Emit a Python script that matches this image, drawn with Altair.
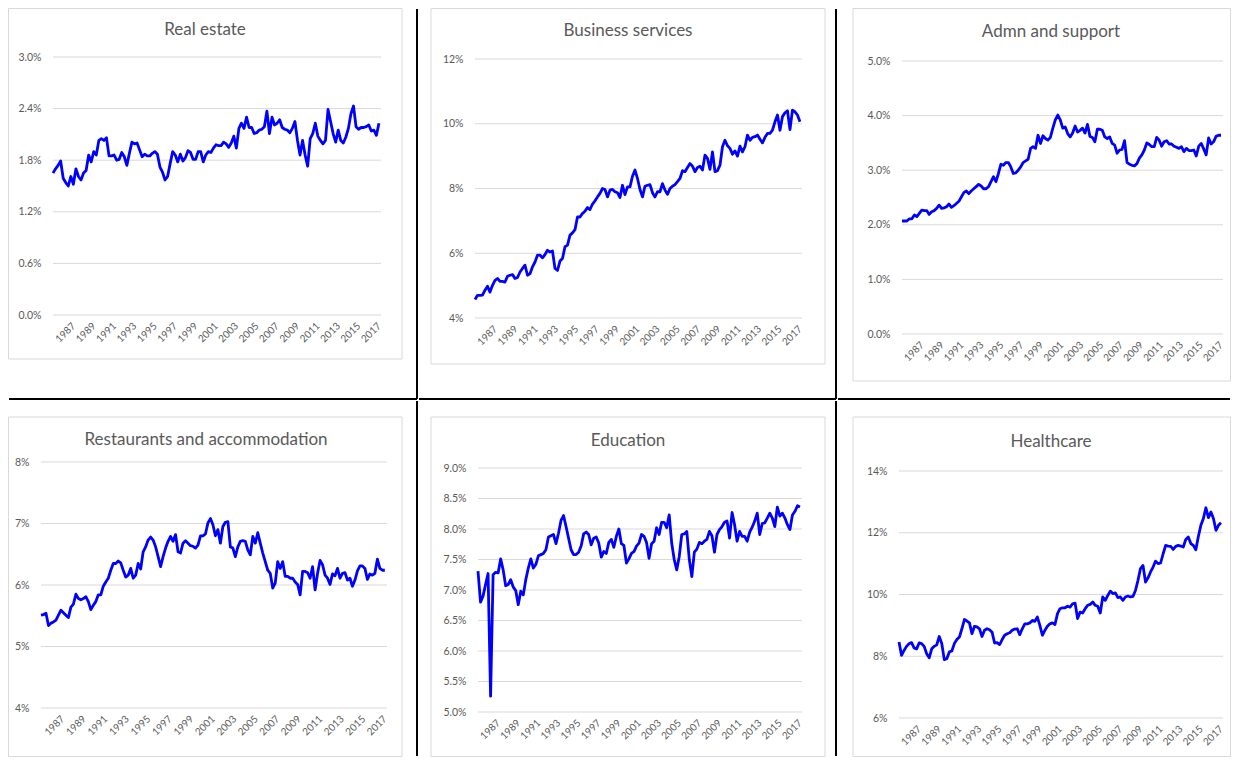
import altair as alt
import pandas as pd

FONT = "Lato"
TEXT = "#595959"
GRID = "#d9d9d9"
BLUE = "#0000ff"

# ---------------- data (percent of employment, quarterly 1985-2017) ----------------
real_estate = [1.65,1.70,1.74,1.79,1.59,1.54,1.50,1.61,1.52,1.70,
               1.61,1.57,1.65,1.68,1.86,1.78,1.90,1.86,2.03,2.05,
               2.03,2.06,1.85,1.85,1.86,1.80,1.81,1.89,1.84,1.74,
               1.88,2.01,1.99,2.00,1.92,1.84,1.87,1.85,1.85,1.88,
               1.90,1.87,1.72,1.66,1.57,1.61,1.76,1.90,1.86,1.78,
               1.87,1.79,1.83,1.91,1.89,1.81,1.81,1.90,1.90,1.78,
               1.86,1.90,1.89,1.94,1.98,1.97,1.97,2.01,1.99,1.95,
               2.00,2.08,1.94,2.17,2.23,2.17,2.30,2.18,2.18,2.11,
               2.12,2.15,2.16,2.19,2.37,2.11,2.30,2.21,2.23,2.27,
               2.18,2.16,2.15,2.12,2.17,2.25,2.03,1.86,2.03,1.86,
               1.73,2.05,2.11,2.23,2.08,2.03,1.99,2.03,2.39,2.25,
               2.11,2.01,2.15,2.03,2.00,2.07,2.17,2.34,2.43,2.19,
               2.16,2.18,2.18,2.19,2.21,2.14,2.15,2.09,2.23]

business = [4.57,4.70,4.70,4.71,4.86,4.98,4.80,5.01,5.16,5.22,
            5.13,5.13,5.11,5.29,5.32,5.34,5.22,5.25,5.42,5.53,
            5.63,5.32,5.37,5.58,5.73,5.94,5.94,5.86,5.96,6.09,
            6.04,6.07,5.53,5.47,5.76,5.84,6.20,6.25,6.56,6.63,
            6.73,7.12,7.12,7.23,7.30,7.41,7.35,7.52,7.62,7.74,
            7.85,8.00,7.97,7.74,7.95,7.97,7.90,7.87,7.72,8.10,
            7.81,8.05,8.05,8.38,8.57,8.31,7.97,7.74,8.07,8.10,
            8.12,7.87,7.74,7.90,7.90,8.15,7.95,7.82,8.00,8.07,
            8.12,8.21,8.31,8.55,8.52,8.65,8.77,8.69,8.52,8.65,
            8.69,8.57,9.03,8.93,8.59,9.13,8.52,8.55,8.72,9.29,
            9.49,9.32,9.24,9.06,9.16,9.00,9.31,9.13,9.29,9.65,
            9.49,9.58,9.60,9.65,9.52,9.41,9.58,9.70,9.70,9.80,
            10.06,10.27,9.80,10.22,10.34,10.40,9.82,10.42,10.37,10.27,
            10.06]

admin = [2.07,2.07,2.07,2.11,2.11,2.18,2.15,2.21,2.27,2.26,
         2.26,2.19,2.24,2.26,2.30,2.36,2.30,2.31,2.33,2.38,
         2.32,2.35,2.39,2.43,2.51,2.59,2.62,2.57,2.62,2.66,
         2.70,2.74,2.71,2.66,2.66,2.70,2.79,2.88,2.79,2.94,
         3.11,3.09,3.14,3.14,3.06,2.94,2.95,3.00,3.06,3.14,
         3.17,3.20,3.40,3.43,3.40,3.64,3.49,3.63,3.58,3.55,
         3.60,3.77,3.92,4.01,3.92,3.77,3.79,3.67,3.61,3.68,
         3.81,3.70,3.73,3.77,3.68,3.84,3.62,3.60,3.52,3.75,
         3.75,3.73,3.61,3.58,3.61,3.49,3.46,3.31,3.37,3.38,
         3.54,3.14,3.11,3.09,3.08,3.12,3.22,3.28,3.37,3.50,
         3.47,3.43,3.43,3.60,3.55,3.44,3.52,3.54,3.48,3.48,
         3.44,3.42,3.40,3.43,3.34,3.40,3.36,3.36,3.37,3.26,
         3.44,3.49,3.39,3.28,3.59,3.48,3.52,3.62,3.64,3.64]

restaurants = [5.51,5.52,5.54,5.34,5.38,5.40,5.43,5.51,5.59,5.55,
               5.51,5.47,5.64,5.69,5.85,5.78,5.76,5.78,5.81,5.73,
               5.60,5.67,5.73,5.84,5.84,5.98,6.05,6.11,6.24,6.35,
               6.35,6.39,6.36,6.24,6.13,6.16,6.27,6.11,6.16,6.35,
               6.26,6.54,6.62,6.73,6.78,6.73,6.62,6.46,6.30,6.46,
               6.60,6.71,6.79,6.71,6.82,6.54,6.52,6.68,6.72,6.68,
               6.64,6.63,6.60,6.65,6.80,6.80,6.83,7.01,7.08,6.98,
               6.80,6.90,6.68,6.95,7.02,7.03,6.62,6.60,6.46,6.62,
               6.71,6.72,6.71,6.57,6.49,6.79,6.68,6.85,6.68,6.52,
               6.38,6.24,6.19,5.95,6.03,6.38,6.27,6.38,6.14,6.14,
               6.11,6.11,6.05,6.01,5.84,6.22,6.22,6.20,6.11,6.30,
               5.92,6.19,6.40,6.33,6.16,6.11,6.01,6.18,6.15,6.27,
               6.11,6.19,6.20,6.08,6.11,5.98,6.08,6.23,6.31,6.31,
               6.27,6.09,6.18,6.16,6.19,6.42,6.27,6.24,6.24]

education = [7.31,6.80,6.90,7.09,7.27,5.26,7.25,7.29,7.28,7.51,
             7.33,7.07,7.09,7.17,7.05,6.99,6.76,6.98,6.92,7.17,
             7.36,7.51,7.36,7.42,7.56,7.58,7.60,7.66,7.87,7.89,
             7.91,7.76,7.93,8.14,8.22,8.04,7.85,7.66,7.58,7.58,
             7.62,7.72,7.92,7.95,7.91,7.74,7.85,7.87,7.77,7.54,
             7.63,7.60,7.78,7.83,7.70,7.88,8.00,7.76,7.73,7.44,
             7.51,7.60,7.63,7.72,7.77,7.91,7.88,7.78,7.52,7.76,
             7.80,8.02,7.91,8.11,8.11,8.02,8.23,7.77,7.50,7.33,
             7.55,7.91,7.92,7.96,7.50,7.22,7.62,7.67,7.78,7.76,
             7.80,7.83,7.96,7.89,7.62,7.91,7.99,8.04,8.11,8.13,
             7.85,8.27,8.07,7.80,7.96,7.88,7.88,7.80,7.95,8.03,
             8.13,8.26,7.91,8.09,8.10,8.18,8.26,8.18,8.04,8.36,
             8.21,8.26,8.18,8.07,7.99,8.23,8.29,8.38,8.36]

healthcare = [8.46,8.03,8.19,8.32,8.41,8.44,8.27,8.24,8.43,8.41,
              8.32,8.08,7.95,8.24,8.32,8.37,8.64,8.41,7.89,7.92,
              8.14,8.17,8.41,8.54,8.62,8.89,9.19,9.14,9.08,8.73,
              8.97,8.95,8.89,8.64,8.84,8.89,8.86,8.78,8.43,8.44,
              8.38,8.54,8.68,8.73,8.76,8.84,8.88,8.89,8.70,8.89,
              9.05,9.05,9.08,9.16,9.13,9.27,9.00,8.68,8.84,8.97,
              9.05,9.08,9.03,9.38,9.54,9.57,9.57,9.62,9.59,9.70,
              9.72,9.22,9.43,9.40,9.54,9.65,9.68,9.76,9.65,9.62,
              9.40,9.92,9.81,9.97,10.11,10.03,10.05,9.90,9.92,9.81,
              9.92,9.95,9.92,9.94,10.13,10.46,10.84,10.94,10.40,10.54,
              10.73,10.89,11.08,11.00,11.02,11.32,11.59,11.57,11.56,11.46,
              11.56,11.59,11.57,11.54,11.78,11.86,11.65,11.59,11.45,11.88,
              12.24,12.46,12.81,12.49,12.67,12.46,12.08,12.24,12.32]

titles = ["Real estate", "Business services", "Admn and support",
          "Restaurants and accommodation", "Education", "Healthcare"]
series = [real_estate, business, admin, restaurants, education, healthcare]
y_domains = [[0, 3], [4, 12], [0, 5], [4, 8], [5, 9], [6, 14]]
y_ticks = [[0, 0.6, 1.2, 1.8, 2.4, 3.0], [4, 6, 8, 10, 12], [0, 1, 2, 3, 4, 5],
           [4, 5, 6, 7, 8], [5, 5.5, 6, 6.5, 7, 7.5, 8, 8.5, 9], [6, 8, 10, 12, 14]]
y_decimals = [1, 0, 1, 0, 1, 0]
year_ticks = list(range(1987, 2018, 2))
X_START, X_END, X_DOM_END = 1985.0, 2017.0, 2017.2

# ---------------- layout (page pixels) ----------------
plots = [(53, 57, 328, 258), (475, 59, 327, 259), (902, 61, 321, 273),
         (41, 462, 346, 246), (478, 468, 324, 244), (899, 471, 324, 247)]
cells = [(8, 8, 410, 392), (418, 8, 419, 392), (837, 8, 394, 392),
         (8, 400, 410, 357), (418, 400, 419, 357), (837, 400, 394, 357)]
borders = [(8.5, 8.5, 402, 359), (431, 8.5, 825, 364), (853, 8.5, 1230.5, 381),
           (8.5, 417, 402, 756.5), (431, 417, 825, 756.5), (853, 417, 1230.5, 756.5)]
title_pos = [(205, 30), (628, 31), (1051, 32), (206, 440), (628, 441), (1051, 442)]
# black separators: ("v", x, y1, y2) / ("h", y, x1, x2)
separators = [
    [("v", 417, 9, 399), ("h", 399, 9, 417)],
    [("v", 836, 9, 399), ("h", 399, 419, 836)],
    [("h", 399, 838, 1230)],
    [("v", 417, 401, 756)],
    [("v", 836, 401, 756)],
    [],
]

one = alt.Data(values=[{"k": 0}])


def frame(vals):
    n = len(vals)
    t = [X_START + (X_END - X_START) * i / (n - 1) for i in range(n)]
    return pd.DataFrame({"t": t, "v": vals})


def panel(i):
    px, py, pw, ph = plots[i]
    cx, cy, cw, ch = cells[i]

    def rx(x):
        return x - cx

    def ry(y):
        return y - cy

    xs = alt.Scale(domain=[X_START, X_DOM_END], range=[rx(px), rx(px + pw)],
                   nice=False, zero=False)
    ys = alt.Scale(domain=y_domains[i], range=[ry(py + ph), ry(py)],
                   nice=False, zero=False)
    dec = y_decimals[i]
    y_axis = alt.Axis(values=y_ticks[i],
                      labelExpr=f"format(datum.value, '.{dec}f') + '%'",
                      grid=False, domain=False, ticks=False, labelPadding=12,
                      labelOverlap=False, offset=-rx(px),
                      labelFont=FONT, labelFontSize=10.5, labelColor=TEXT)
    x_axis = alt.Axis(values=year_ticks, format="d", labelAngle=-45,
                      labelAlign="right", labelBaseline="middle",
                      labelPadding=9, grid=False, domain=False, ticks=False,
                      labelOverlap=False, labelFlush=False,
                      offset=ry(py + ph) - ch,
                      labelFont=FONT, labelFontSize=10, labelColor=TEXT)

    layers = []
    # invisible cell box (defines the cell extent)
    layers.append(alt.Chart(one).mark_rect(fill="white", fillOpacity=0).encode(
        x=alt.value(0), x2=alt.value(cw), y=alt.value(0), y2=alt.value(ch)))
    # light chart-area border
    bx1, by1, bx2, by2 = borders[i]
    layers.append(alt.Chart(one).mark_rect(fillOpacity=0, stroke=GRID, strokeWidth=1).encode(
        x=alt.value(rx(bx1)), x2=alt.value(rx(bx2)),
        y=alt.value(ry(by1)), y2=alt.value(ry(by2))))
    # black separators
    for s in separators[i]:
        if s[0] == "v":
            _, x, y1, y2 = s
            layers.append(alt.Chart(one).mark_rule(color="black", strokeWidth=2).encode(
                x=alt.value(rx(x)), y=alt.value(ry(y1)), y2=alt.value(ry(y2))))
        else:
            _, y, x1, x2 = s
            layers.append(alt.Chart(one).mark_rule(color="black", strokeWidth=2).encode(
                y=alt.value(ry(y)), x=alt.value(rx(x1)), x2=alt.value(rx(x2))))
    # title
    tx, ty = title_pos[i]
    layers.append(alt.Chart(one).mark_text(
        text=titles[i], font=FONT, fontSize=17, color=TEXT,
        align="center", baseline="middle").encode(
        x=alt.value(rx(tx)), y=alt.value(ry(ty))))
    # horizontal gridlines at the y tick values
    layers.append(alt.Chart(pd.DataFrame({"v": y_ticks[i]})).mark_rule(
        color=GRID, strokeWidth=1).encode(
        y=alt.Y("v:Q", title=None, scale=ys, axis=y_axis),
        x=alt.value(rx(px)), x2=alt.value(rx(px + pw))))

    line = alt.Chart(frame(series[i])).mark_line(
        color=BLUE, strokeWidth=2.8, strokeJoin="round").encode(
        x=alt.X("t:Q", title=None, scale=xs, axis=x_axis),
        y=alt.Y("v:Q", title=None, scale=ys, axis=y_axis),
    )
    layers.append(line)
    return alt.layer(*layers).properties(width=cw, height=ch)


row1 = alt.hconcat(panel(0), panel(1), panel(2), spacing=0)
row2 = alt.hconcat(panel(3), panel(4), panel(5), spacing=0)
chart = alt.vconcat(row1, row2, spacing=0).properties(
    padding=0, background="white"
).configure_view(strokeWidth=0)

chart.save("out.html", embed_options={"renderer": "svg", "actions": False})
